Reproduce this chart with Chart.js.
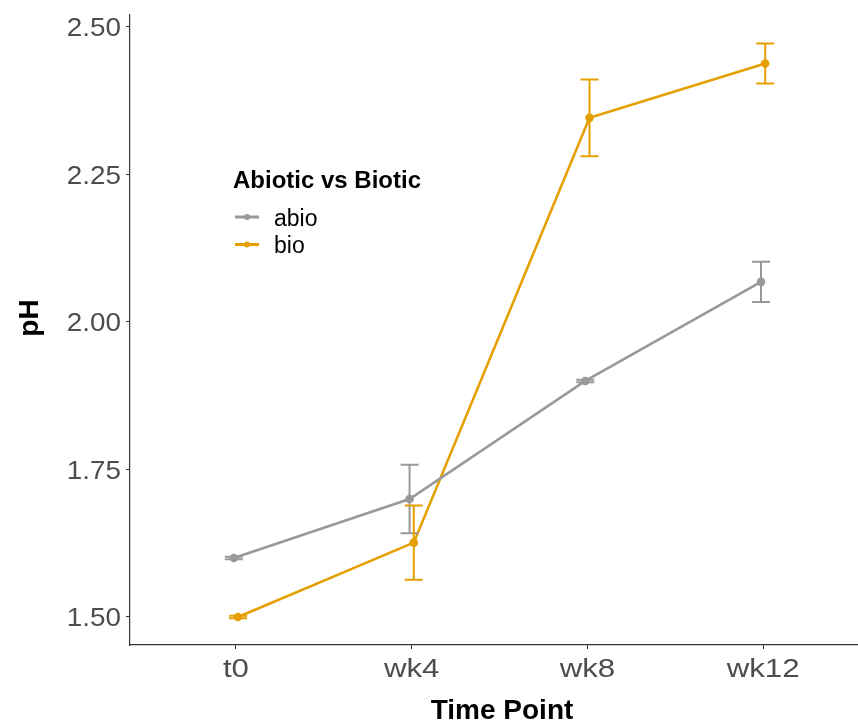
<!DOCTYPE html>
<html>
<head>
<meta charset="utf-8">
<script src="https://cdn.jsdelivr.net/npm/chart.js@4.4.1/dist/chart.umd.min.js"></script>
<style>
	html, body { margin: 0; padding: 0; background: #fff; overflow: hidden; }
	#wrap { width: 858px; height: 722px; position: relative; }
</style>
</head>
<body>
<div id="wrap"><canvas id="phChart"></canvas></div>
<script>
// values
const timePoints = ['t0', 'wk4', 'wk8', 'wk12'];
const abioMean = [1.600, 1.700, 1.900, 2.068];
const abioErr = [0.002, 0.058, 0.002, 0.034];
const bioMean = [1.500, 1.626, 2.346, 2.438];
const bioErr = [0.002, 0.063, 0.065, 0.034];
const yTicks = [1.50, 1.75, 2.00, 2.25, 2.50];

const GREY = '#999999';
const ORANGE = '#E69F00';
const FONT = '"Liberation Sans", Arial, Helvetica, sans-serif';
const DODGE = 0.012; // slight position dodge like ggplot

const series = [
	{ label: 'abio', mean: abioMean, err: abioErr, color: GREY, shift: -DODGE },
	{ label: 'bio', mean: bioMean, err: bioErr, color: ORANGE, shift: DODGE },
];

const errorBars = {
	id: 'errorBars',
	afterDatasetsDraw(chart) {
		const ctx = chart.ctx;
		const yScale = chart.scales.y;
		series.forEach((s, i) => {
			const meta = chart.getDatasetMeta(i);
			ctx.save();
			ctx.strokeStyle = s.color;
			ctx.lineWidth = 2;
			meta.data.forEach((pt, j) => {
				const top = yScale.getPixelForValue(s.mean[j] + s.err[j]);
				const bot = yScale.getPixelForValue(s.mean[j] - s.err[j]);
				ctx.beginPath();
				ctx.moveTo(pt.x, top);
				ctx.lineTo(pt.x, bot);
				ctx.moveTo(pt.x - 9, top);
				ctx.lineTo(pt.x + 9, top);
				ctx.moveTo(pt.x - 9, bot);
				ctx.lineTo(pt.x + 9, bot);
				ctx.stroke();
			});
			ctx.restore();
		});
	},
};

// draws text stretched horizontally, the reference glyphs run wide
function wideText(ctx, text, x, y, stretch) {
	ctx.save();
	ctx.translate(x, y);
	ctx.scale(stretch, 1);
	ctx.fillText(text, 0, 0);
	ctx.restore();
}

const annotations = {
	id: 'annotations',
	afterDraw(chart) {
		const ctx = chart.ctx;
		const xs = chart.scales.x;
		const ys = chart.scales.y;
		ctx.save();

		// tick labels
		ctx.fillStyle = '#4d4d4d';
		ctx.font = '26px ' + FONT;
		ctx.textBaseline = 'alphabetic';
		ctx.textAlign = 'right';
		yTicks.forEach((v) => {
			wideText(ctx, v.toFixed(2), 121, ys.getPixelForValue(v) + 9.5, 1.07);
		});
		ctx.textAlign = 'center';
		timePoints.forEach((t, i) => {
			wideText(ctx, t, xs.getPixelForValue(i), 677, 1.2);
		});

		// axis titles
		ctx.fillStyle = '#000';
		ctx.font = 'bold 28px ' + FONT;
		ctx.fillText('Time Point', 502, 719);

		ctx.save();
		ctx.translate(38, 318);
		ctx.rotate(-Math.PI / 2);
		ctx.fillText('pH', 0, 0);
		ctx.restore();

		// legend
		ctx.textAlign = 'left';
		ctx.font = 'bold 24px ' + FONT;
		ctx.fillText('Abiotic vs Biotic', 233, 188);

		ctx.font = '23px ' + FONT;
		series.forEach((s, i) => {
			const y = 217 + i * 27.5;
			ctx.strokeStyle = s.color;
			ctx.fillStyle = s.color;
			ctx.lineWidth = 3;
			ctx.beginPath();
			ctx.moveTo(235, y);
			ctx.lineTo(259, y);
			ctx.stroke();
			ctx.beginPath();
			ctx.arc(247, y, 3, 0, Math.PI * 2);
			ctx.fill();
			ctx.fillStyle = '#000';
			ctx.fillText(s.label, 274, y + 8.5);
		});
		ctx.restore();
	},
};

document.addEventListener('DOMContentLoaded', () => {
	const ctx = document.getElementById('phChart').getContext('2d');

	new Chart(ctx, {
		type: 'line',
		data: {
			datasets: series.map((s) => ({
				label: s.label,
				data: s.mean.map((v, i) => ({ x: i + s.shift, y: v })),
				borderColor: s.color,
				backgroundColor: s.color,
				borderWidth: 2.6,
				pointRadius: 3,
				pointHoverRadius: 3,
				tension: 0,
				clip: false,
			})),
		},
		options: {
			responsive: true,
			maintainAspectRatio: false,
			animation: false,
			layout: {
				autoPadding: false,
				padding: { top: 15, left: 0, right: 0, bottom: 0 },
			},
			plugins: {
				legend: { display: false },
				tooltip: { enabled: false },
			},
			scales: {
				x: {
					type: 'linear',
					min: -0.603,
					max: 3.54,
					afterBuildTicks: (scale) => {
						scale.ticks = timePoints.map((_, i) => ({ value: i }));
					},
					afterFit: (scale) => {
						scale.height = 77;
						scale.paddingLeft = 0;
						scale.paddingRight = 0;
					},
					ticks: { display: false },
					grid: {
						display: true,
						drawOnChartArea: false,
						drawTicks: true,
						tickLength: 4,
						color: '#333',
					},
					border: { display: true, color: '#333', width: 1.2 },
				},
				y: {
					min: 1.4525,
					max: 2.5203,
					afterBuildTicks: (scale) => {
						scale.ticks = yTicks.map((v) => ({ value: v }));
					},
					afterFit: (scale) => {
						scale.width = 130;
						scale.paddingTop = 0;
						scale.paddingBottom = 0;
					},
					ticks: { display: false },
					grid: {
						display: true,
						drawOnChartArea: false,
						drawTicks: true,
						tickLength: 4,
						color: '#333',
					},
					border: { display: true, color: '#333', width: 1.2 },
				},
			},
		},
		plugins: [errorBars, annotations],
	});
});
</script>
</body>
</html>
